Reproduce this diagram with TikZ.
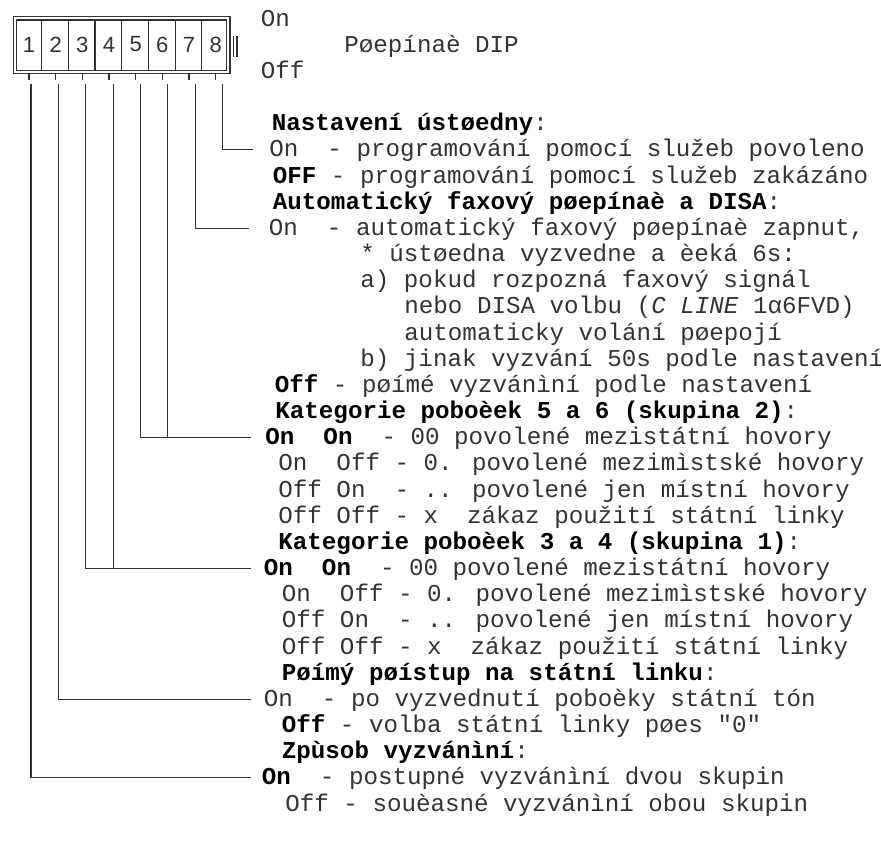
\documentclass[tikz,border=0pt]{standalone}
\usepackage{fontspec}
\setmainfont[Ligatures=TeXOff]{Liberation Mono}
\newfontfamily\digitfont{Liberation Sans}
\newcommand{\boldpart}[1]{\textcolor{black}{\textbf{#1}}}

\begin{document}
\begin{tikzpicture}[
    x=0.5pt, y=-0.5pt,
    txt/.style={inner sep=0pt, anchor=base west, text=black!80,
      font=\fontsize{12.1}{14}\selectfont},
    digit/.style={inner sep=0pt, text=black!80,
      font=\digitfont\fontsize{11}{13}\selectfont},
    frame/.style={draw=black!80, line width=0.55pt},
    lead/.style={draw=black!80, line width=0.55pt}
  ]
  \useasboundingbox (0,0) rectangle (881,841);

  % switch body
  \draw[frame] (13.3,16.7) rectangle (230,73.7);
  \draw[frame] (16.7,20) rectangle (226.7,70.3);
  \draw[frame] (233.5,36) -- (233.5,57) (237,36) -- (237,57);
  \foreach \k in {0,...,6}
    \draw[frame] ({41.7+26.67*\k},20) -- ({41.7+26.67*\k},70.3);
  \foreach \k in {1,...,8} {
    \node[digit] (d\k) at ({29+26.67*(\k-1)},44.5) {\k};
    \draw[frame] ({29+26.67*(\k-1)},73.7) -- ++(0,6.3);
    \coordinate (s\k) at ({31+27.38*(\k-1)},84);
  }

  \node[txt] (lblon)  at (260.5,26)   {On};
  \node[txt] (lbldip) at (344,52.2)   {Pøepínaè DIP};
  \node[txt] (lbloff) at (260.5,78.3) {Off};

  % switch 8
  \node[txt] (r4) at (271.5,130.7) {\boldpart{Nastavení ústøedny}:};
  \node[txt] (r5) at (269,156.9)   {On~ - programování pomocí služeb povoleno};
  \node[txt] (r6) at (272.5,183)   {\boldpart{OFF} - programování pomocí služeb zakázáno};

  % switch 7
  \node[txt] (r7)  at (272.5,209.2) {\boldpart{Automatický faxový pøepínaè a DISA}:};
  \node[txt] (r8)  at (268.5,235.4) {On~ - automatický faxový pøepínaè zapnut,};
  \node[txt] (r9)  at (360,261.5)   {* ústøedna vyzvedne a èeká 6s:};
  \node[txt] (r10) at (360,287.7)   {a) pokud rozpozná faxový signál};
  \node[txt] (r11) at (404,313.9)   {nebo DISA volbu (\textit{C LINE} 1α6FVD)};
  \node[txt] (r12) at (404,340)     {automaticky volání pøepojí};
  \node[txt] (r13) at (360,366.2)   {b) jinak vyzvání 50s podle nastavení};
  \node[txt] (r14) at (274.5,392.4) {\boldpart{Off} - pøímé vyzvánìní podle nastavení};

  % switches 5 and 6
  \node[txt] (r15) at (275,418.6)   {\boldpart{Kategorie poboèek 5 a 6 (skupina 2)}:};
  \node[txt] (r16) at (265,444.7)   {\boldpart{On~ On}~ - 00 povolené mezistátní hovory};
  \node[txt] (r17) at (278,470.9)   {On~ Off - 0. povolené mezimìstské hovory};
  \node[txt] (r18) at (278,497.1)   {Off On~ - .. povolené jen místní hovory};
  \node[txt] (r19) at (278,523.2)   {Off Off - x~ zákaz použití státní linky};

  % switches 3 and 4
  \node[txt] (r20) at (278,549.4)   {\boldpart{Kategorie poboèek 3 a 4 (skupina 1)}:};
  \node[txt] (r21) at (263.5,575.6) {\boldpart{On~ On}~ - 00 povolené mezistátní hovory};
  \node[txt] (r22) at (281.5,601.7) {On~ Off - 0. povolené mezimìstské hovory};
  \node[txt] (r23) at (281.5,627.9) {Off On~ - .. povolené jen místní hovory};
  \node[txt] (r24) at (281.5,654.1) {Off Off - x~ zákaz použití státní linky};

  % switch 2
  \node[txt] (r25) at (281.5,680.3) {\boldpart{Pøímý pøístup na státní linku}:};
  \node[txt] (r26) at (263.5,706.4) {On~ - po vyzvednutí poboèky státní tón};
  \node[txt] (r27) at (281.5,732.6) {\boldpart{Off} - volba státní linky pøes "0"};

  % switch 1
  \node[txt] (r28) at (281.5,758.8) {\boldpart{Zpùsob vyzvánìní}:};
  \node[txt] (r29) at (261.5,784.9) {\boldpart{On}~ - postupné vyzvánìní dvou skupin};
  \node[txt] (r30) at (285,811.1)   {Off - souèasné vyzvánìní obou skupin};

  \coordinate (e5)  at ([shift={(-16,-7)}]r5.base west);
  \coordinate (e8)  at ([shift={(-20,-7)}]r8.base west);
  \coordinate (e16) at ([shift={(-14.5,-7)}]r16.base west);
  \coordinate (e21) at ([shift={(-13,-7)}]r21.base west);
  \coordinate (e26) at ([shift={(-13,-7)}]r26.base west);
  \coordinate (e29) at ([shift={(-11,-7)}]r29.base west);

  \draw[lead] (s8) |- (e5);
  \draw[lead] (s7) |- (e8);
  \draw[lead] (s5) |- (e16);
  \draw[lead] (s6) -- (s6 |- e16);
  \draw[lead] (s3) |- (e21);
  \draw[lead] (s4) -- (s4 |- e21);
  \draw[lead] (s2) |- (e26);
  \draw[lead] (s1) |- (e29);
\end{tikzpicture}
\end{document}
